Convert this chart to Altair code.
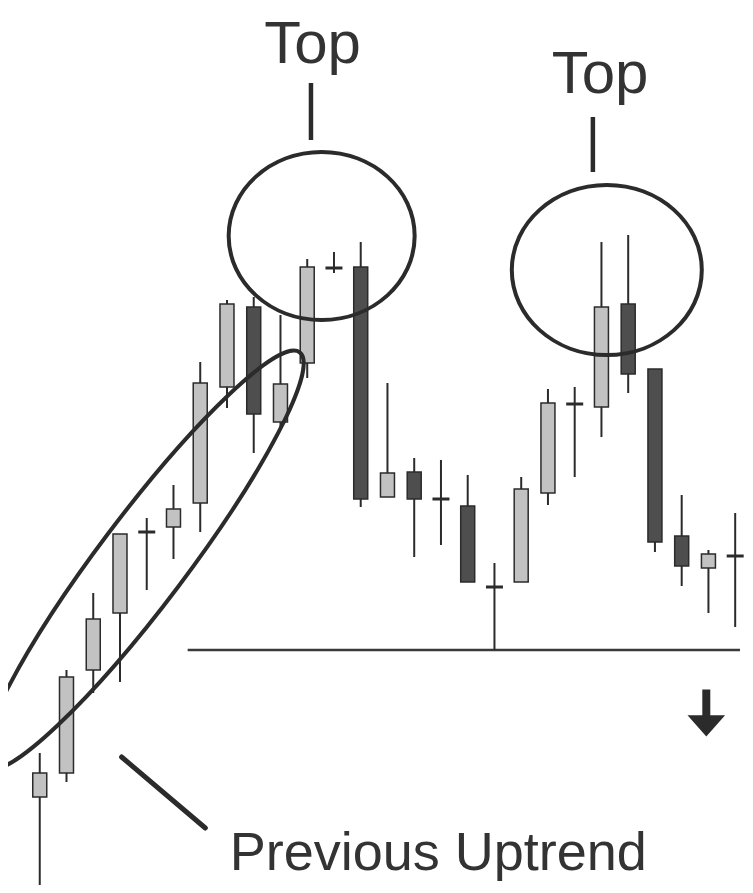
import altair as alt
import pandas as pd

# ---- candle data (index 1..27, arbitrary price units) ----
candle = list(range(1, 28))
opens  = [103, 127, 230, 287, 368, 373, 397, 513, 593, 478, 537, 632, 633,
          403, 428, 401, 394, 313, 318, 407, 496, 493, 596, 531, 364, 332, 344]
highs  = [147, 230, 307, 366, 382, 415, 538, 600, 603, 585, 641, 648, 658,
          517, 442, 440, 425, 337, 423, 511, 513, 658, 665, 531, 405, 350, 387]
lows   = [15, 118, 207, 218, 310, 341, 368, 492, 447, 473, 522, 627, 393,
          403, 343, 355, 318, 250, 318, 395, 423, 463, 507, 348, 314, 287, 273]
closes = [127, 223, 281, 366, 368, 391, 517, 596, 486, 516, 633, 632, 401,
          427, 401, 401, 318, 313, 411, 497, 496, 593, 526, 358, 334, 346, 344]

# ---- annotations ----
top_labels = ["Top", "Top"]
top_x = [11.2, 21.95]
top_y = [837, 807]
top_tick_x = [11.14, 21.68]
top_tick_y1 = [817, 783]
top_tick_y2 = [760, 728]

ring_x = [11.54, 22.2]
ring_y = [664, 630]

trend_x, trend_y = [4.87], [340]
support_x1, support_x2, support_y = [6.53], [27.18], [250]
pointer_x1, pointer_y1, pointer_x2, pointer_y2 = [4.06], [143], [7.19], [72]
caption = ["Previous Uptrend"]
caption_x, caption_y = [8.1], [30]
arrow_x, arrow_y = [25.92], [187]

df = pd.DataFrame(dict(i=candle, open=opens, high=highs, low=lows, close=closes))

XS = alt.Scale(domain=[0, 27.18], nice=False, zero=False)
YS = alt.Scale(domain=[15, 892], nice=False, zero=False)
INK = "#2b2b2b"


def ellipse_path(ry):
    k = 0.5523
    return (f"M1,0 C1,{k*ry:.4f} {k},{ry:.4f} 0,{ry:.4f} "
            f"C{-k},{ry:.4f} -1,{k*ry:.4f} -1,0 "
            f"C-1,{-k*ry:.4f} {-k},{-ry:.4f} 0,{-ry:.4f} "
            f"C{k},{-ry:.4f} 1,{-k*ry:.4f} 1,0 Z")


base = alt.Chart(df)
xq = alt.X("i:Q", scale=XS, axis=None)

wicks = base.mark_rule(color=INK, strokeWidth=2).encode(
    x=xq, y=alt.Y("low:Q", scale=YS, axis=None), y2="high:Q")

bodies = base.transform_filter("datum.open != datum.close").mark_bar(
    size=14, stroke=INK, strokeWidth=1.5).encode(
    x=xq, y=alt.Y("open:Q", scale=YS, axis=None), y2="close:Q",
    color=alt.condition("datum.close > datum.open",
                        alt.value("#c2c2c2"), alt.value("#4e4e4e")))

dojis = base.transform_filter("datum.open == datum.close").mark_tick(
    orient="horizontal", size=17, thickness=3, color=INK, opacity=1).encode(
    x=xq, y=alt.Y("open:Q", scale=YS, axis=None))

# support line
sup_df = pd.DataFrame(dict(x=support_x1, x2=support_x2, y=support_y))
support = alt.Chart(sup_df).mark_rule(color="#3a3a3a", strokeWidth=2.5).encode(
    x=alt.X("x:Q", scale=XS, axis=None), x2="x2:Q",
    y=alt.Y("y:Q", scale=YS, axis=None))

# pointer line
ptr_df = pd.DataFrame(dict(x=pointer_x1, x2=pointer_x2, y=pointer_y1, y2=pointer_y2))
pointer = alt.Chart(ptr_df).mark_rule(color=INK, strokeWidth=5, strokeCap="round").encode(
    x=alt.X("x:Q", scale=XS, axis=None), x2="x2:Q",
    y=alt.Y("y:Q", scale=YS, axis=None), y2="y2:Q")

# Top ticks
tick_df = pd.DataFrame(dict(x=top_tick_x, y=top_tick_y1, y2=top_tick_y2))
top_ticks = alt.Chart(tick_df).mark_rule(color=INK, strokeWidth=4.5).encode(
    x=alt.X("x:Q", scale=XS, axis=None),
    y=alt.Y("y:Q", scale=YS, axis=None), y2="y2:Q")

# Top labels
lab_df = pd.DataFrame(dict(t=top_labels, x=top_x, y=top_y))
top_text = alt.Chart(lab_df).mark_text(
    font="Liberation Sans", fontSize=60, color="#333333",
    align="center", baseline="alphabetic").encode(
    x=alt.X("x:Q", scale=XS, axis=None), y=alt.Y("y:Q", scale=YS, axis=None), text="t:N")

cap_df = pd.DataFrame(dict(t=caption, x=caption_x, y=caption_y))
cap_text = alt.Chart(cap_df).mark_text(
    font="Liberation Sans", fontSize=54, color="#333333",
    align="left", baseline="alphabetic").encode(
    x=alt.X("x:Q", scale=XS, axis=None), y=alt.Y("y:Q", scale=YS, axis=None), text="t:N")

# rings
def ring(xv, yv, ratio, size, angle=0, sw=4):
    d = pd.DataFrame(dict(x=[xv], y=[yv]))
    return alt.Chart(d).mark_point(
        shape=ellipse_path(ratio), size=size, angle=angle, filled=False,
        stroke=INK, strokeWidth=sw, opacity=1).encode(
        x=alt.X("x:Q", scale=XS, axis=None), y=alt.Y("y:Q", scale=YS, axis=None))

ring1 = ring(ring_x[0], ring_y[0], 0.903, 186 ** 2)
ring2 = ring(ring_x[1], ring_y[1], 0.895, 190 ** 2)
ring3 = ring(trend_x[0], trend_y[0], 0.169, 520 ** 2, angle=127)

# down arrow
arr_df = pd.DataFrame(dict(x=arrow_x, y=arrow_y))
arrow = alt.Chart(arr_df).mark_point(
    shape="M-0.17,-1 L0.17,-1 L0.17,0.1 L0.8,0.1 L0,1 L-0.8,0.1 L-0.17,0.1 Z",
    size=47 ** 2, filled=True, fill=INK, strokeWidth=0, opacity=1).encode(
    x=alt.X("x:Q", scale=XS, axis=None), y=alt.Y("y:Q", scale=YS, axis=None))

chart = alt.layer(
    support, wicks, bodies, dojis, ring1, ring2, ring3,
    top_ticks, top_text, pointer, cap_text, arrow
).properties(
    width=737, height=877,
    autosize=alt.AutoSizeParams(type="none"),
    padding=0, background="white"
).configure_view(stroke=None)

chart.save("out.html", embed_options={"renderer": "svg", "actions": False})
